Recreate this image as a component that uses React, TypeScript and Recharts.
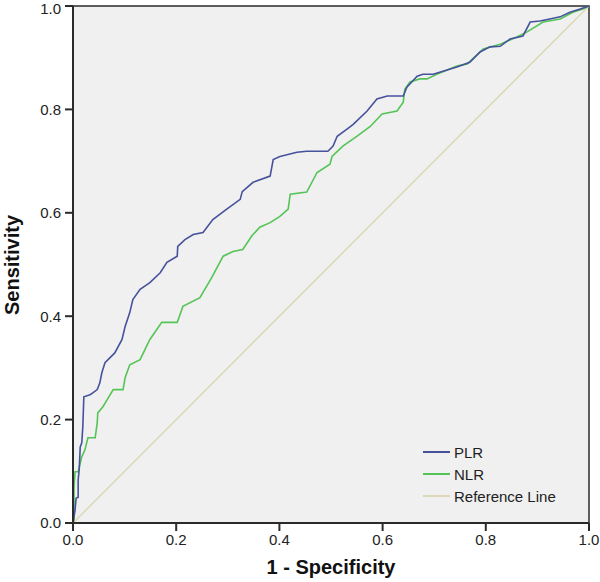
import React from "react";
import {
  LineChart,
  Line,
  XAxis,
  YAxis,
  ReferenceArea,
} from "recharts";

// ROC curve points (1 - specificity, sensitivity)
const plrX = [0, 0.004, 0.006, 0.01, 0.01, 0.012, 0.014, 0.017, 0.019, 0.021, 0.033, 0.039, 0.047, 0.052, 0.056, 0.062, 0.081, 0.095, 0.101, 0.11, 0.116, 0.13, 0.149, 0.169, 0.182, 0.202, 0.203, 0.217, 0.233, 0.252, 0.271, 0.298, 0.324, 0.328, 0.349, 0.382, 0.388, 0.401, 0.434, 0.453, 0.494, 0.504, 0.512, 0.531, 0.543, 0.57, 0.589, 0.609, 0.64, 0.647, 0.667, 0.678, 0.698, 0.717, 0.744, 0.769, 0.789, 0.808, 0.828, 0.847, 0.872, 0.886, 0.905, 0.924, 0.944, 0.963, 0.983, 1];
const plrY = [0, 0.025, 0.048, 0.05, 0.083, 0.103, 0.147, 0.155, 0.186, 0.244, 0.248, 0.252, 0.258, 0.271, 0.291, 0.31, 0.329, 0.355, 0.38, 0.407, 0.432, 0.452, 0.465, 0.484, 0.504, 0.516, 0.535, 0.548, 0.558, 0.562, 0.587, 0.607, 0.626, 0.641, 0.659, 0.671, 0.703, 0.709, 0.717, 0.719, 0.719, 0.729, 0.748, 0.762, 0.771, 0.797, 0.82, 0.826, 0.826, 0.843, 0.864, 0.868, 0.868, 0.874, 0.882, 0.891, 0.911, 0.921, 0.922, 0.936, 0.942, 0.969, 0.971, 0.975, 0.979, 0.988, 0.994, 1];

const nlrX = [0, 0.002, 0.002, 0.004, 0.01, 0.014, 0.017, 0.023, 0.029, 0.043, 0.047, 0.048, 0.058, 0.066, 0.078, 0.097, 0.101, 0.11, 0.13, 0.149, 0.172, 0.202, 0.213, 0.246, 0.269, 0.291, 0.31, 0.329, 0.347, 0.362, 0.382, 0.401, 0.417, 0.421, 0.453, 0.473, 0.498, 0.502, 0.523, 0.55, 0.576, 0.599, 0.628, 0.64, 0.643, 0.653, 0.672, 0.686, 0.705, 0.744, 0.764, 0.795, 0.828, 0.86, 0.88, 0.911, 0.944, 0.969, 0.988, 1];
const nlrY = [0, 0.006, 0.07, 0.099, 0.099, 0.116, 0.128, 0.141, 0.165, 0.165, 0.194, 0.213, 0.225, 0.238, 0.258, 0.258, 0.281, 0.306, 0.316, 0.355, 0.388, 0.388, 0.419, 0.436, 0.475, 0.516, 0.525, 0.529, 0.556, 0.572, 0.581, 0.593, 0.607, 0.636, 0.64, 0.678, 0.694, 0.709, 0.729, 0.748, 0.767, 0.791, 0.797, 0.814, 0.839, 0.853, 0.859, 0.859, 0.868, 0.884, 0.888, 0.917, 0.926, 0.94, 0.95, 0.969, 0.975, 0.988, 0.994, 1];

const refX = [0, 1];
const refY = [0, 1];

const ticks = [0, 0.2, 0.4, 0.6, 0.8, 1];

const toPoints = (xs: number[], ys: number[]) => xs.map((x, i) => ({ x, y: ys[i] }));

const plrData = toPoints(plrX, plrY);
const nlrData = toPoints(nlrX, nlrY);
const refData = toPoints(refX, refY);

const FONT = "'Liberation Sans', Arial, sans-serif";
const AXIS = "#2b2b2b";

const legendItems = [
  { name: "PLR", color: "#46529c" },
  { name: "NLR", color: "#55c457" },
  { name: "Reference Line", color: "#dcd9b8" },
];

function RocLegend() {
  return (
    <div style={{ position: "absolute", left: 423, top: 441, fontFamily: FONT, fontSize: 15, color: "#222" }}>
      {legendItems.map((it) => (
        <div key={it.name} style={{ display: "flex", alignItems: "center", height: 22 }}>
          <span style={{ display: "inline-block", width: 27, height: 2, background: it.color, marginRight: 4 }} />
          <span>{it.name}</span>
        </div>
      ))}
    </div>
  );
}

export default function App() {
  return (
    <div style={{ position: "absolute", left: 0, top: 0, width: 600, height: 582, background: "#fff" }}>
      <LineChart width={600} height={582} margin={{ top: 6, right: 11, bottom: 0, left: 0 }}>
        <ReferenceArea x1={0} x2={1} y1={0} y2={1} fill="#f0f0f0" fillOpacity={1} stroke={AXIS} strokeWidth={1.5} />
        <XAxis
          type="number"
          dataKey="x"
          domain={[0, 1]}
          ticks={ticks}
          tickFormatter={(v: number) => v.toFixed(1)}
          height={59}
          tickSize={8}
          tickMargin={3}
          stroke={AXIS}
          strokeWidth={2}
          tick={{ fill: "#222", fontSize: 15, fontFamily: FONT }}
          allowDataOverflow
        />
        <YAxis
          type="number"
          dataKey="y"
          domain={[0, 1]}
          ticks={ticks}
          tickFormatter={(v: number) => v.toFixed(1)}
          width={73}
          tickSize={8}
          tickMargin={4}
          stroke={AXIS}
          strokeWidth={2}
          tick={{ fill: "#222", fontSize: 15, fontFamily: FONT }}
          allowDataOverflow
        />
        <Line data={refData} dataKey="y" name="Reference Line" stroke="#dcd9b8" strokeWidth={1.5} dot={false} isAnimationActive={false} />
        <Line data={nlrData} dataKey="y" name="NLR" stroke="#55c457" strokeWidth={1.6} dot={false} isAnimationActive={false} />
        <Line data={plrData} dataKey="y" name="PLR" stroke="#46529c" strokeWidth={1.6} dot={false} isAnimationActive={false} />
      </LineChart>
      <RocLegend />
      <div
        style={{
          position: "absolute",
          left: 73,
          width: 516,
          top: 556,
          textAlign: "center",
          fontFamily: FONT,
          fontWeight: "bold",
          fontSize: 20,
          color: "#111",
        }}
      >
        1 - Specificity
      </div>
      <div
        style={{
          position: "absolute",
          left: 12,
          top: 265,
          transform: "translate(-50%, -50%) rotate(-90deg)",
          whiteSpace: "nowrap",
          fontFamily: FONT,
          fontWeight: "bold",
          fontSize: 20,
          color: "#111",
        }}
      >
        Sensitivity
      </div>
    </div>
  );
}
